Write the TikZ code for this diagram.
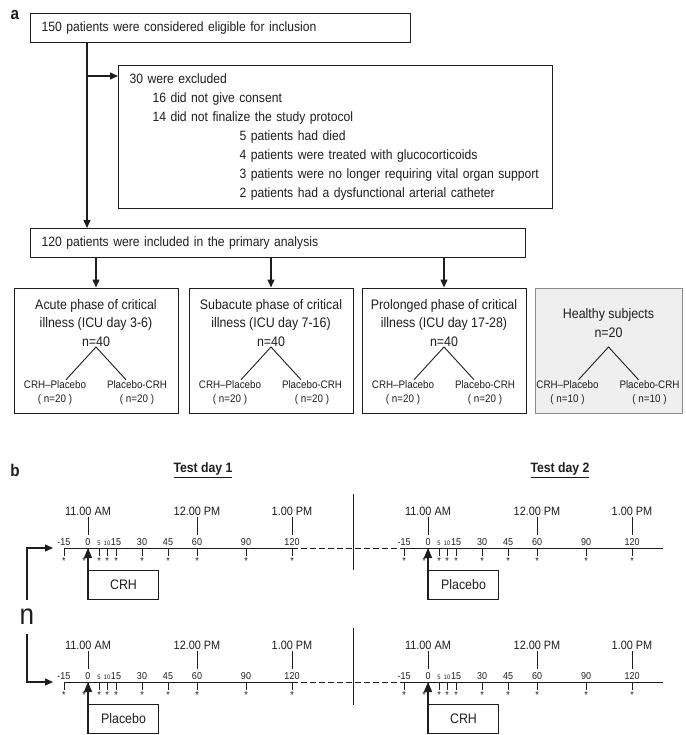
\documentclass[tikz,border=0pt]{standalone}
\usepackage{fontspec}
\setmainfont{Liberation Sans}[FakeStretch=0.9]
\usetikzlibrary{arrows.meta,positioning}

\definecolor{ink}{HTML}{1E1E1E}
\definecolor{healthy}{HTML}{EFEFEF}
\definecolor{hline}{HTML}{8A8A8A}

\begin{document}
\begin{tikzpicture}[x=1pt,y=-1pt,>={Triangle[length=8pt,width=7pt]},color=ink,text=ink]
\tikzstyle{box}=[draw, line width=1pt, align=left, inner xsep=11pt, inner ysep=0pt, anchor=north west, font=\fontsize{13.5}{19}\selectfont]
\tikzstyle{pbox}=[draw, line width=1pt, minimum height=125pt]
\tikzstyle{ttl}=[align=center, inner sep=0pt, font=\fontsize{13.8}{18.5}\selectfont]
\tikzstyle{leaf}=[align=center, inner sep=1pt, font=\fontsize{10.9}{14}\selectfont]
\tikzstyle{flow}=[->, line width=1.4pt]
\tikzstyle{axis}=[line width=0.9pt]
\tikzstyle{tick}=[line width=0.8pt]
\tikzstyle{num}=[anchor=base, inner sep=0pt]
\tikzstyle{star}=[inner sep=0pt, font=\fontsize{10}{10}\selectfont]
\tikzstyle{clock}=[anchor=base, inner sep=0pt, font=\fontsize{12.1}{12}\selectfont]
\tikzstyle{drug}=[draw, line width=1pt, anchor=north west, minimum width=70pt, minimum height=29pt, font=\fontsize{13.8}{14}\selectfont]
\tikzstyle{drugarrow}=[->, line width=1.4pt, >={Triangle[length=10pt,width=8pt]}]
\tikzstyle{lbl}=[font=\bfseries\fontsize{17}{17}\selectfont]
\tikzstyle{day}=[font=\bfseries\fontsize{13.6}{14}\selectfont]
\tikzstyle{bign}=[inner xsep=0pt, inner ysep=9pt, font=\fontsize{29}{29}\selectfont]

\useasboundingbox (0,0) rectangle (685,735);

% a: patient flow
\node[lbl] (a) at (15,15) {a};
\node[box, text width=358pt, minimum height=29pt] (elig) at (30,13) {150 patients were considered eligible for inclusion};
\node[box, text width=412pt, minimum height=143pt] (excl) at (118,65) {30 were excluded\\
  \hspace*{23pt}16 did not give consent\\
  \hspace*{23pt}14 did not finalize the study protocol\\
  \hspace*{110pt}5 patients had died\\
  \hspace*{110pt}4 patients were treated with glucocorticoids\\
  \hspace*{110pt}3 patients were no longer requiring vital organ support\\
  \hspace*{110pt}2 patients had a dysfunctional arterial catheter};
\node[box, text width=473pt, minimum height=29pt] (incl) at (30,228) {120 patients were included in the primary analysis};

\draw[flow] ([xshift=57pt]elig.south west) -- ([xshift=57pt]incl.north west);
\draw[flow] ([xshift=57pt]elig.south west) |- ([yshift=-11pt]excl.north west);

\foreach \nm/\cx/\w/\fc/\dc/\k/\ttl in {acute/96/164/white/ink/20/{Acute phase of critical\\illness (ICU day 3-6)\\n=40},
    sub/271/164/white/ink/20/{Subacute phase of critical\\illness (ICU day 7-16)\\n=40},
    prol/444/164/white/ink/20/{Prolonged phase of critical\\illness (ICU day 17-28)\\n=40},
    healthy/608.5/147/healthy/hline/10/{Healthy subjects\\n=20}} {
  \node[pbox, fill=\fc, draw=\dc, minimum width=\w pt] (\nm) at (\cx,350.5) {};
  \node[ttl] (\nm-t) at (\cx,323) {\ttl};
  \coordinate (\nm-top) at (\cx,347);
  \node[leaf] (\nm-l) at (\cx-41,393) {CRH–Placebo\\( n=\k\ )};
  \node[leaf] (\nm-r) at (\cx+41,393) {Placebo-CRH\\( n=\k\ )};
  \draw[line width=0.9pt] ([xshift=11pt]\nm-l.north) -- (\nm-top) -- ([xshift=-11pt]\nm-r.north);
}
\foreach \nm in {acute,sub,prol}
  \draw[flow] (incl.south -| \nm.north) -- (\nm.north);

% b: test days
\node[lbl] (b) at (15,470) {b};
\node[day] (day1) at (203,470) {\underline{Test day 1}};
\node[day] (day2) at (560,470) {\underline{Test day 2}};

\draw[line width=0.9pt] (353,494) -- (353,570);
\draw[line width=0.9pt] (353,628) -- (353,705);

\foreach \yy/\da/\db [count=\r] in {548/CRH/Placebo, 682/Placebo/CRH} {
  \draw[axis] (64,\yy) -- (292,\yy);
  \draw[axis, dash pattern=on 6pt off 3pt] (292,\yy) -- (404,\yy);
  \draw[axis] (404,\yy) -- (663,\yy);
  \foreach \off in {0,340} {
    \foreach \t/\tx/\sx/\fz in {-15/64/64/10, 0/88/84/10, 5/99/99/6.5, 10/107/107/6.5, 15/116/116/10,
        30/142/142/10, 45/168/168/10, 60/197/197/10, 90/246/246/10, 120/292/292/10} {
      \draw[tick] (\tx+\off,\yy) -- (\tx+\off,\yy+8);
      \node[num, font=\fontsize{\fz}{\fz}\selectfont] (t\r-\off-\tx) at (\tx+\off,\yy-3) {\t};
      \node[star] (s\r-\off-\tx) at (\sx+\off,\yy+13) {*};
    }
    \foreach \clk/\cx in {11.00 AM/88, 12.00 PM/197, 1.00 PM/292} {
      \draw[tick] (\cx+\off,\yy-31) -- (\cx+\off,\yy-13);
      \node[clock] (c\r-\off-\cx) at (\cx+\off,\yy-33) {\clk};
    }
  }
  \node[drug] (drugL\r) at (88,\yy+22) {\da};
  \node[drug] (drugR\r) at (428,\yy+22) {\db};
  \coordinate (zeroL\r) at (88,\yy);
  \coordinate (zeroR\r) at (428,\yy);
  \draw[drugarrow] (drugL\r.south west) -- (zeroL\r);
  \draw[drugarrow] (drugR\r.south west) -- (zeroR\r);
}

\coordinate (in1) at (53,548);
\coordinate (in2) at (53,682);
\node[bign] (rnd) at (27,617) {n};
\draw[flow] (rnd.north) |- (in1);
\draw[flow] (rnd.south) |- (in2);
\end{tikzpicture}
\end{document}
